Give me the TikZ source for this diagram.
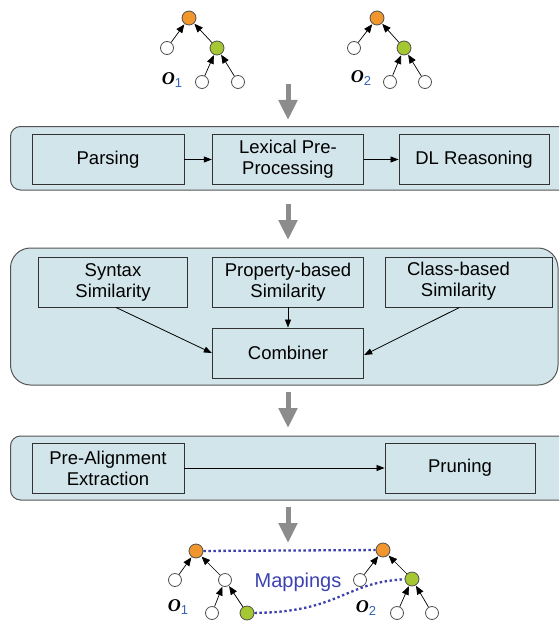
\documentclass[tikz,border=0pt]{standalone}
\usepackage{fontspec}
\setmainfont{Liberation Sans}
\newfontfamily\oserif{Liberation Serif}
\usetikzlibrary{arrows.meta}
\definecolor{panelfill}{RGB}{210,229,234}
\definecolor{panelline}{RGB}{85,85,85}
\definecolor{boxline}{RGB}{50,50,50}
\definecolor{orangenode}{RGB}{240,150,45}
\definecolor{greennode}{RGB}{165,200,50}
\definecolor{nodeline}{RGB}{80,80,80}
\definecolor{mapblue}{RGB}{60,65,175}
\definecolor{subblue}{RGB}{50,100,180}
\definecolor{arrowgray}{RGB}{140,140,140}
\newcommand{\olabel}[1]{{\oserif\bfseries\itshape\fontsize{18}{18}\selectfont O}\raisebox{-3pt}{\fontsize{13}{13}\selectfont\textcolor{subblue}{#1}}}
\begin{document}
\begin{tikzpicture}[x=1pt,y=-1pt,
  panel/.style={draw=panelline, fill=panelfill, line width=1pt},
  box/.style={draw=boxline, fill=panelfill, line width=0.9pt, minimum height=50pt, align=center, inner sep=0pt,
    font=\fontsize{18.5}{21}\selectfont},
  flow/.style={draw=black, line width=0.8pt, -{Triangle[width=6pt,length=8pt]}},
  bigarrow/.style={draw=arrowgray, line width=5pt, -{Triangle[width=18pt,length=20pt]}},
  onode/.style={circle, draw=nodeline, fill=orangenode, line width=0.8pt, minimum size=14pt, inner sep=0pt},
  gnode/.style={circle, draw=nodeline, fill=greennode, line width=0.8pt, minimum size=14pt, inner sep=0pt},
  wnode/.style={circle, draw=nodeline, fill=white, line width=0.8pt, minimum size=13pt, inner sep=0pt},
  tedge/.style={draw=black, line width=0.7pt, -{Triangle[width=7pt,length=8.5pt]}, shorten >=0.5pt},
  mapline/.style={draw=mapblue, line width=2.3pt, dash pattern=on 2.4pt off 2.6pt},
  olab/.style={inner sep=0pt}
]
\useasboundingbox (0,0) rectangle (559,623);
\clip (0,0) rectangle (559,623);

% ---------- top trees ----------
\node[onode] (ta) at (189,18) {};
\node[wnode] (tal) at (167,48) {};
\node[gnode] (tar) at (217,48) {};
\node[wnode] (tarl) at (202,82) {};
\node[wnode] (tarr) at (238,82) {};
\draw[tedge] (tal) -- (ta);
\draw[tedge] (tar) -- (ta);
\draw[tedge] (tarl) -- (tar);
\draw[tedge] (tarr) -- (tar);
\node[olab] (to1) at (172,80) {\olabel{1}};

\node[onode] (tb) at (377,18) {};
\node[wnode] (tbl) at (354,48) {};
\node[gnode] (tbr) at (404,48) {};
\node[wnode] (tbrl) at (390,82) {};
\node[wnode] (tbrr) at (425,82) {};
\draw[tedge] (tbl) -- (tb);
\draw[tedge] (tbr) -- (tb);
\draw[tedge] (tbrl) -- (tbr);
\draw[tedge] (tbrr) -- (tbr);
\node[olab] (to2) at (361,78) {\olabel{2}};

% ---------- gray arrows ----------
\coordinate (a1s) at (288,84);
\coordinate (a1e) at (288,120);
\coordinate (a2s) at (288,204);
\coordinate (a2e) at (288,240);
\coordinate (a3s) at (288,392);
\coordinate (a3e) at (288,428);
\coordinate (a4s) at (288,507);
\coordinate (a4e) at (288,543);
\draw[bigarrow] (a1s) -- (a1e);
\draw[bigarrow] (a2s) -- (a2e);
\draw[bigarrow] (a3s) -- (a3e);
\draw[bigarrow] (a4s) -- (a4e);

% ---------- panel 1 ----------
\draw[panel, rounded corners=10pt] (10.5,126.5) rectangle (620,190);
\node[box, minimum width=152pt] (parse) at (108,159.5) {Parsing};
\node[box, minimum width=151.5pt] (lex) at (288,159.5) {Lexical Pre-\\Processing};
\node[box, minimum width=150pt] (dl) at (474,159.5) {DL Reasoning};
\draw[flow] (parse) -- (lex);
\draw[flow] (lex) -- (dl);

% ---------- panel 2 ----------
\draw[panel, rounded corners=20pt] (10.5,248) rectangle (558,385);
\node[box, minimum width=149pt] (syn) at (113,282) {Syntax\\Similarity};
\node[box, minimum width=151.5pt] (prop) at (288,282) {Property-based\\Similarity};
\node[box, minimum width=167pt] (cls) at (468.5,282)
  {\begin{tabular}{@{}c@{\hspace{20pt}}}Class-based\\Similarity\end{tabular}};
\node[box, minimum width=151.5pt] (comb) at (288,353) {Combiner};
\draw[flow] ([xshift=3pt]syn.south) -- (comb.west);
\draw[flow] (prop.south) -- (comb.north);
\draw[flow] ([xshift=-9pt]cls.south) -- ([yshift=-2pt]comb.east);

% ---------- panel 3 ----------
\draw[panel, rounded corners=10pt] (10.5,436) rectangle (620,500);
\node[box, minimum width=152pt] (pre) at (108,468) {Pre-Alignment\\Extraction};
\node[box, minimum width=150pt] (prune) at (460,468) {Pruning};
\draw[flow] (pre) -- (prune);

% ---------- bottom trees ----------
\node[onode] (ba) at (196,551) {};
\node[wnode] (bal) at (175,580) {};
\node[wnode] (bar) at (225,580) {};
\node[wnode] (barl) at (212,613) {};
\node[gnode] (barr) at (247,613) {};
\draw[tedge] (bal) -- (ba);
\draw[tedge] (bar) -- (ba);
\draw[tedge] (barl) -- (bar);
\draw[tedge] (barr) -- (bar);
\node[olab] (bo1) at (178,607) {\olabel{1}};

\node[onode] (bb) at (383,550) {};
\node[wnode] (bbl) at (360,580) {};
\node[gnode] (bbr) at (412,579) {};
\node[wnode] (bbrl) at (397,613) {};
\node[wnode] (bbrr) at (432,613) {};
\draw[tedge] (bbl) -- (bb);
\draw[tedge] (bbr) -- (bb);
\draw[tedge] (bbrl) -- (bbr);
\draw[tedge] (bbrr) -- (bbr);
\node[olab] (bo2) at (366,608) {\olabel{2}};

\draw[mapline] (ba) -- (bb);
\draw[mapline] (barr) .. controls (340,612) and (345,582) .. (bbr);
\node[text=mapblue, font=\fontsize{20}{20}\selectfont, inner sep=0pt] (maplab) at (298,582) {Mappings};
\end{tikzpicture}
\end{document}
